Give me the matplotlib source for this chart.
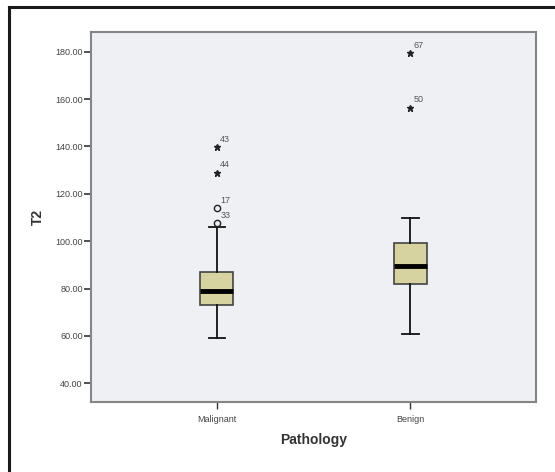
"""
Boxplot de T2 por patologia (estilo SPSS)
"""

import matplotlib
matplotlib.use("Agg")
import matplotlib.pyplot as plt
from matplotlib.lines import Line2D

plt.rcParams['font.family'] = ['Liberation Sans', 'DejaVu Sans']

# dados
categories = ['Malignant', 'Benign']
q1 = [73.0, 82.1]
median = [78.9, 89.6]
q3 = [86.8, 99.3]
whisker_low = [59.0, 60.6]
whisker_high = [106.0, 109.6]

# outliers (o) e extremos (*) com o número do caso
outlier_group = [0, 0]
outlier_value = [114.2, 107.7]
outlier_case = ['17', '33']
extreme_group = [0, 0, 1, 1]
extreme_value = [139.6, 128.9, 179.3, 156.4]
extreme_case = ['43', '44', '67', '50']

y_ticks = [40, 60, 80, 100, 120, 140, 160, 180]

fig = plt.figure(figsize=(5.55, 4.72), dpi=100)
ax = fig.add_axes([0.164, 0.148, 0.802, 0.784])
ax.set_facecolor('#eef0f3')

stats = []
for i, name in enumerate(categories):
    stats.append({
        'label': name,
        'q1': q1[i], 'med': median[i], 'q3': q3[i],
        'whislo': whisker_low[i], 'whishi': whisker_high[i],
        'fliers': [],
    })

positions = [1, 2]
ax.bxp(stats, positions=positions, widths=0.17, patch_artist=True,
       showfliers=False,
       boxprops=dict(facecolor='#d7d3a0', edgecolor='#444444', linewidth=1.2),
       medianprops=dict(color='black', linewidth=3.5),
       whiskerprops=dict(color='#111111', linewidth=1.3),
       capprops=dict(color='#111111', linewidth=1.3),
       capwidths=0.085)

# outliers
for g, v, c in zip(outlier_group, outlier_value, outlier_case):
    ax.plot(positions[g], v, marker='o', markersize=4.5, markerfacecolor='none',
            markeredgecolor='#222222', markeredgewidth=1.0, linestyle='none')
    ax.annotate(c, (positions[g], v), xytext=(2.5, 3.5),
                textcoords='offset points', fontsize=6.5, color='#555555')

for g, v, c in zip(extreme_group, extreme_value, extreme_case):
    ax.plot(positions[g], v, marker='*', markersize=4.5, color='#222222',
            linestyle='none')
    ax.annotate(c, (positions[g], v), xytext=(2.5, 4),
                textcoords='offset points', fontsize=6.5, color='#555555')

ax.set_xlim(0.35, 2.65)
ax.set_ylim(32, 188.3)
ax.set_yticks(y_ticks)
ax.set_yticklabels([f'{t:.2f}' for t in y_ticks])
ax.set_xticks(positions)
ax.set_xticklabels(categories)

ax.tick_params(axis='y', labelsize=6.5, labelcolor='#444444', length=5,
               width=1.2, color='#333333', pad=1)
ax.tick_params(axis='x', labelsize=6.5, labelcolor='#444444', length=5,
               width=1.0, color='#333333', pad=4)

for s in ax.spines.values():
    s.set_color('#858585')
    s.set_linewidth(1.5)

ax.set_ylabel('T2', fontsize=10, fontweight='bold', color='#333333', labelpad=7)
ax.set_xlabel('Pathology', fontsize=10, fontweight='bold', color='#333333', labelpad=7)

# moldura externa (só esquerda e topo visíveis)
fig.add_artist(Line2D([0.016, 0.016], [0.0, 0.986], transform=fig.transFigure,
                      color='#1a1a1a', linewidth=2.2))
fig.add_artist(Line2D([0.016, 1.0], [0.986, 0.986], transform=fig.transFigure,
                      color='#1a1a1a', linewidth=2.2))

fig.savefig('out.png', dpi=100)
